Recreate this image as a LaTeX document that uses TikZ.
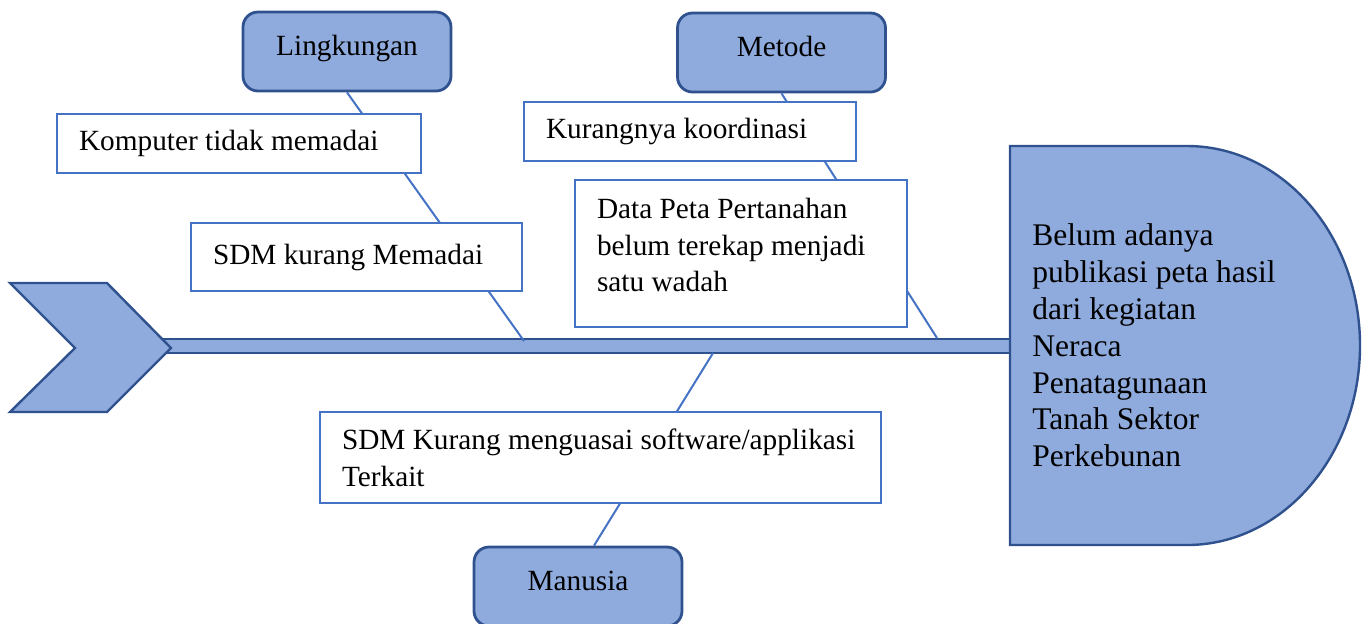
\documentclass[tikz,border=0pt]{standalone}
\usepackage{fontspec}
\setmainfont{Liberation Serif}
\definecolor{isibiru}{HTML}{8FAADC}
\definecolor{garisbiru}{HTML}{2F528F}
\definecolor{kotakbiru}{HTML}{4472C4}
\tikzset{kategori/.style={rectangle,rounded corners=7.5pt,draw=garisbiru,fill=isibiru,line width=1.4pt,minimum width=104pt,minimum height=39.5pt,inner sep=0pt,text height=10pt,text depth=6.5pt}}
\tikzset{sebab/.style={rectangle,draw=kotakbiru,fill=white,line width=1.3pt,inner xsep=11pt,inner ysep=0pt,align=flush left}}
\tikzset{tulang/.style={draw=kotakbiru,line width=1pt}}
\tikzset{bentuk/.style={draw=garisbiru,fill=isibiru,line width=1.2pt,line join=miter}}

\begin{document}
\begin{tikzpicture}[x=0.5pt,y=-0.5pt,font=\fontsize{14.65}{18.4}\selectfont]
        \useasboundingbox (0,0) rectangle (1368,623);

        % tulang punggung, kepala panah dan kepala ikan
        \draw[bentuk,line width=1pt] (160,339) rectangle (1010,353);
        \draw[bentuk] (10,283) -- (107,283) -- (171,348) -- (107,412) -- (10,412) -- (75,348) -- cycle;
        \draw[bentuk] (1010,146) -- (1187,146) arc[start angle=-90,end angle=90,x radius=173,y radius=199.5] -- (1010,545) -- cycle;

        \node[kategori] (lingkungan) at (347,51.5) {Lingkungan};
        \node[kategori] (metode) at (781.5,52.5) {Metode};
        \node[kategori] (manusia) at (578,586.5) {Manusia};

        \coordinate (tulangL) at (524,341);
        \coordinate (tulangM) at (937,338);
        \coordinate (tulangN) at (713,353);
        \draw[tulang] (lingkungan.south) -- (tulangL);
        \draw[tulang] (metode.south) -- (tulangM);
        \draw[tulang] ([xshift=8pt]manusia.north) -- (tulangN);

        \node[sebab,text width=160pt,minimum height=29.5pt] (komputer) at (239,143.5) {Komputer tidak memadai};
        \node[sebab,text width=143.5pt,minimum height=34pt] (sdmmemadai) at (356.5,257) {SDM kurang Memadai};
        \node[sebab,text width=144pt,minimum height=29.5pt] (koordinasi) at (690,131.5) {Kurangnya koordinasi};
        \node[sebab,text width=144pt,minimum height=73.5pt] (datapeta) at (741,253.5) {Data Peta Pertanahan\\belum terekap menjadi\\satu wadah\rule[-8.5pt]{0pt}{1pt}};
        \node[sebab,text width=258.5pt,minimum height=45.5pt] (sdmsoftware) at (600.5,457.5) {\mbox{SDM Kurang menguasai software/applikasi}\\Terkait};

        \node[anchor=west,align=left,inner sep=0pt,font=\fontsize{15.75}{18.4}\selectfont] (akibat) at (1032,345.5) {Belum adanya\\publikasi peta hasil\\dari kegiatan\\Neraca\\Penatagunaan\\Tanah Sektor\\Perkebunan};
\end{tikzpicture}
\end{document}
